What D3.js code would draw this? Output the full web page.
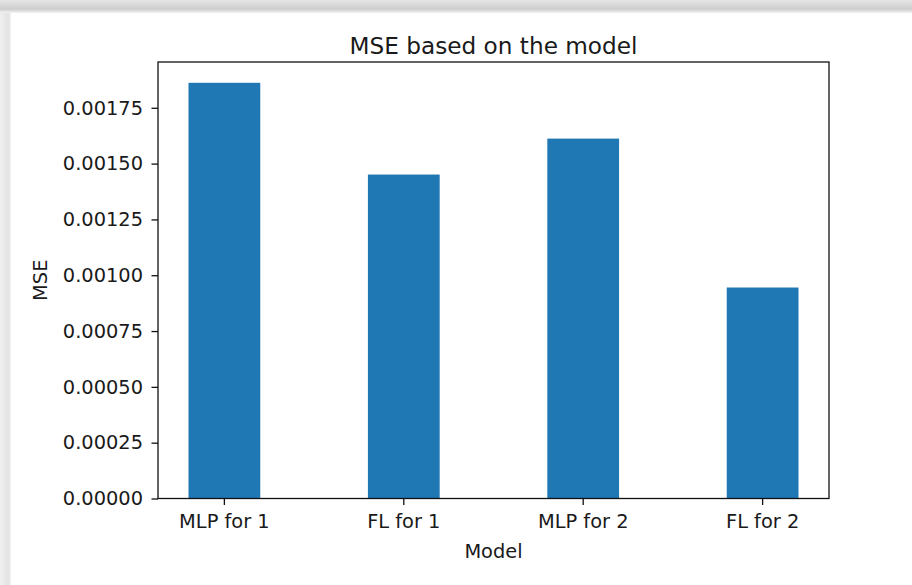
<!DOCTYPE html>
<html>
<head>
<meta charset="utf-8">
<script src="https://cdn.jsdelivr.net/npm/d3@7"></script>
<style>
  html, body { margin: 0; padding: 0; background: #fff; }
  svg { display: block; font-family: "DejaVu Sans", sans-serif; }
</style>
</head>
<body>
<svg id="chart" width="912" height="585"></svg>
<script>
// Mean squared error per model
const models = ["MLP for 1", "FL for 1", "MLP for 2", "FL for 2"];
const mse = [0.001862, 0.001451, 0.001612, 0.000945];
const yTicks = [0, 0.00025, 0.0005, 0.00075, 0.001, 0.00125, 0.0015, 0.00175];

(function draw() {
  const svg = d3.select("#chart");
  const W = 912, H = 585;

  // window frame: shaded top strip and left strip
  const defs = svg.append("defs");
  const gTop = defs.append("linearGradient").attr("id", "topShade")
    .attr("x1", 0).attr("y1", 0).attr("x2", 0).attr("y2", 1);
  gTop.append("stop").attr("offset", "0%").attr("stop-color", "#e6e6e6");
  gTop.append("stop").attr("offset", "70%").attr("stop-color", "#cdcdcd");
  gTop.append("stop").attr("offset", "100%").attr("stop-color", "#f4f4f4");
  const gLeft = defs.append("linearGradient").attr("id", "leftShade")
    .attr("x1", 0).attr("y1", 0).attr("x2", 1).attr("y2", 0);
  gLeft.append("stop").attr("offset", "0%").attr("stop-color", "#f0f0f0");
  gLeft.append("stop").attr("offset", "80%").attr("stop-color", "#e2e2e2");
  gLeft.append("stop").attr("offset", "100%").attr("stop-color", "#f6f6f6");

  svg.append("rect").attr("x", 0).attr("y", 0).attr("width", W).attr("height", H).attr("fill", "#fff");
  svg.append("rect").attr("x", 0).attr("y", 0).attr("width", 11).attr("height", H).attr("fill", "url(#leftShade)");
  svg.append("rect").attr("x", 0).attr("y", 0).attr("width", W).attr("height", 13).attr("fill", "url(#topShade)");
  svg.append("rect").attr("x", 11).attr("y", 13).attr("width", W - 11).attr("height", H - 13)
    .attr("rx", 3).attr("fill", "#fff");

  // plot area
  const mLeft = 158, mRight = 829, mTop = 62, mBottom = 498.5;

  const x = d3.scaleBand()
    .domain(models)
    .range([mLeft, mRight])
    .paddingInner(0.6)
    .paddingOuter(0.17);

  const y = d3.scaleLinear()
    .domain([0, d3.max(mse) * 1.05])
    .range([mBottom, mTop]);

  // bars
  svg.append("g").selectAll("rect")
    .data(models)
    .join("rect")
    .attr("x", d => x(d))
    .attr("width", x.bandwidth())
    .attr("y", (d, i) => y(mse[i]))
    .attr("height", (d, i) => mBottom - y(mse[i]))
    .attr("fill", "#1f77b4");

  const textColor = "#1a1a1a";
  const tickFont = 19.4;

  // y axis
  const yAxis = svg.append("g")
    .attr("transform", `translate(${mLeft},0)`)
    .call(d3.axisLeft(y).tickValues(yTicks).tickFormat(d3.format(".5f"))
      .tickSize(6.5).tickPadding(8.5));
  yAxis.select(".domain").remove();
  yAxis.selectAll(".tick line").attr("stroke", "#111").attr("stroke-width", 1.3);
  yAxis.selectAll(".tick text")
    .attr("font-size", tickFont)
    .attr("fill", textColor)
    .attr("font-family", "DejaVu Sans");

  // x axis
  const xAxis = svg.append("g")
    .attr("transform", `translate(0,${mBottom})`)
    .call(d3.axisBottom(x).tickSize(6.5).tickPadding(9));
  xAxis.select(".domain").remove();
  xAxis.selectAll(".tick line").attr("stroke", "#111").attr("stroke-width", 1.3);
  xAxis.selectAll(".tick text")
    .attr("font-size", tickFont)
    .attr("fill", textColor)
    .attr("font-family", "DejaVu Sans");

  // axes frame
  svg.append("rect")
    .attr("x", mLeft).attr("y", mTop)
    .attr("width", mRight - mLeft).attr("height", mBottom - mTop)
    .attr("fill", "none").attr("stroke", "#111").attr("stroke-width", 1.3);

  // title and axis labels
  svg.append("text")
    .attr("x", (mLeft + mRight) / 2).attr("y", 54)
    .attr("text-anchor", "middle")
    .attr("font-size", 23.2)
    .attr("fill", textColor)
    .text("MSE based on the model");

  svg.append("text")
    .attr("x", (mLeft + mRight) / 2).attr("y", 558)
    .attr("text-anchor", "middle")
    .attr("font-size", tickFont)
    .attr("fill", textColor)
    .text("Model");

  svg.append("text")
    .attr("transform", `translate(47,${(mTop + mBottom) / 2}) rotate(-90)`)
    .attr("text-anchor", "middle")
    .attr("font-size", tickFont)
    .attr("fill", textColor)
    .text("MSE");
})();
</script>
</body>
</html>
